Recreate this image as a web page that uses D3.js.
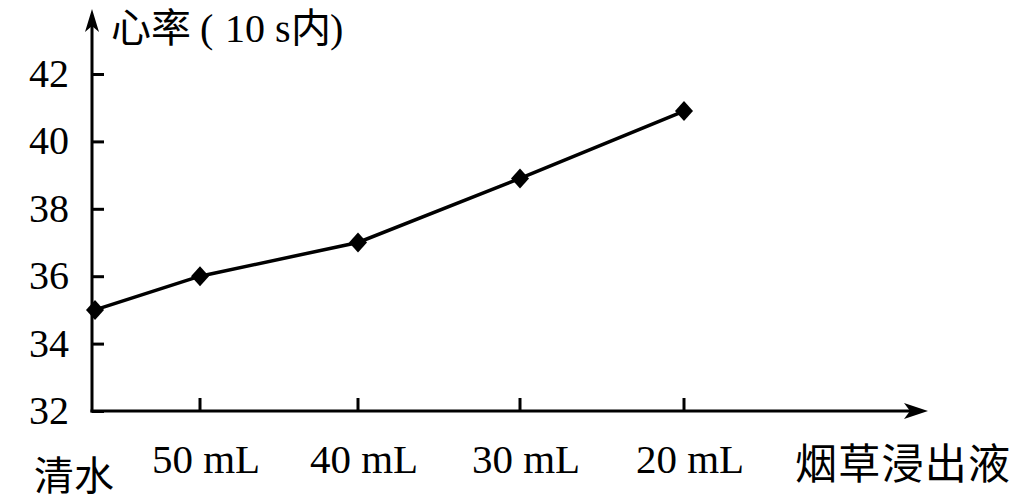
<!DOCTYPE html>
<html><head><meta charset="utf-8">
<script src="https://cdn.jsdelivr.net/npm/d3@7"></script>
<style>body{margin:0;background:#fff}svg{display:block}</style>
</head><body>
<svg id="c" width="1019" height="500"></svg>
<script>
const categories = ["清水", "50 mL", "40 mL", "30 mL", "20 mL"];
const heartRate = [35, 36, 37, 38.9, 40.9];
const yTicks = [32, 34, 36, 38, 40, 42];
const yTitleParts = ["心率", "(", "10", "s", "内", ")"];
const xTitle = "烟草浸出液";

const svg = d3.select("#c");
const serif = "'Liberation Serif','DejaVu Serif',serif";
const cjk = "'Noto Sans CJK SC','Noto Sans CJK JP',sans-serif";
const ox = 92, oy = 411;

const y = d3.scaleLinear().domain([32, 42]).range([oy, 74]);
const x = d3.scaleOrdinal().domain(categories).range([95, 200, 358, 520, 684]);

// axes lines
svg.append("line").attr("x1", ox).attr("y1", oy + 1.5).attr("x2", ox).attr("y2", 22)
  .attr("stroke", "#000").attr("stroke-width", 3);
svg.append("line").attr("x1", ox - 1.5).attr("y1", oy).attr("x2", 915).attr("y2", oy)
  .attr("stroke", "#000").attr("stroke-width", 3);
// arrows
svg.append("path").attr("d", `M${ox},9 L${ox+7},32 L${ox},26 L${ox-7},32 Z`).attr("fill", "#000");
svg.append("path").attr("d", `M928,${oy} L904,${oy-8} L910,${oy} L904,${oy+8} Z`).attr("fill", "#000");

// y ticks
const yAxis = d3.axisRight(y).tickValues(yTicks).tickSize(12).tickFormat("");
const ga = svg.append("g").attr("transform", `translate(${ox},0)`).call(yAxis);
ga.select(".domain").remove();
ga.selectAll(".tick line").attr("stroke", "#000").attr("stroke-width", 3);
svg.selectAll(".ylab").data(yTicks).enter().append("text")
  .attr("x", 69).attr("y", d => y(d) + 13).attr("text-anchor", "end")
  .attr("font-family", serif).attr("font-size", 40).text(d => d);

// x ticks (skip first category at origin)
svg.selectAll(".xt").data(categories.slice(1)).enter().append("line")
  .attr("x1", d => x(d)).attr("x2", d => x(d)).attr("y1", oy).attr("y2", oy - 13)
  .attr("stroke", "#000").attr("stroke-width", 3);
svg.selectAll(".xlab").data(categories.slice(1)).enter().append("text")
  .attr("x", d => x(d) + 6).attr("y", 473).attr("text-anchor", "middle")
  .attr("font-family", serif).attr("font-size", 41).text(d => d);
svg.append("text").attr("x", 34).attr("y", 490).attr("font-family", cjk)
  .attr("font-size", 40).text(categories[0]);
svg.append("text").attr("x", 795).attr("y", 479).attr("font-family", cjk)
  .attr("font-size", 42).attr("textLength", 215).text(xTitle);

// y title
const titleX = [111, 200, 225, 275, 291, 330];
const titleFont = [cjk, serif, serif, serif, cjk, serif];
svg.selectAll(".yt").data(yTitleParts).enter().append("text")
  .attr("x", (d, i) => titleX[i]).attr("y", 42).attr("font-size", 40)
  .attr("font-family", (d, i) => titleFont[i]).text(d => d);

// line
const pts = categories.map((c, i) => [x(c), y(heartRate[i])]);
svg.append("path").attr("d", d3.line()(pts)).attr("fill", "none")
  .attr("stroke", "#000").attr("stroke-width", 3.5);
svg.selectAll(".m").data(pts).enter().append("path")
  .attr("transform", d => `translate(${d[0]},${d[1]})`)
  .attr("d", "M0,-10 L9,0 L0,10 L-9,0 Z").attr("fill", "#000");
</script>
</body></html>
